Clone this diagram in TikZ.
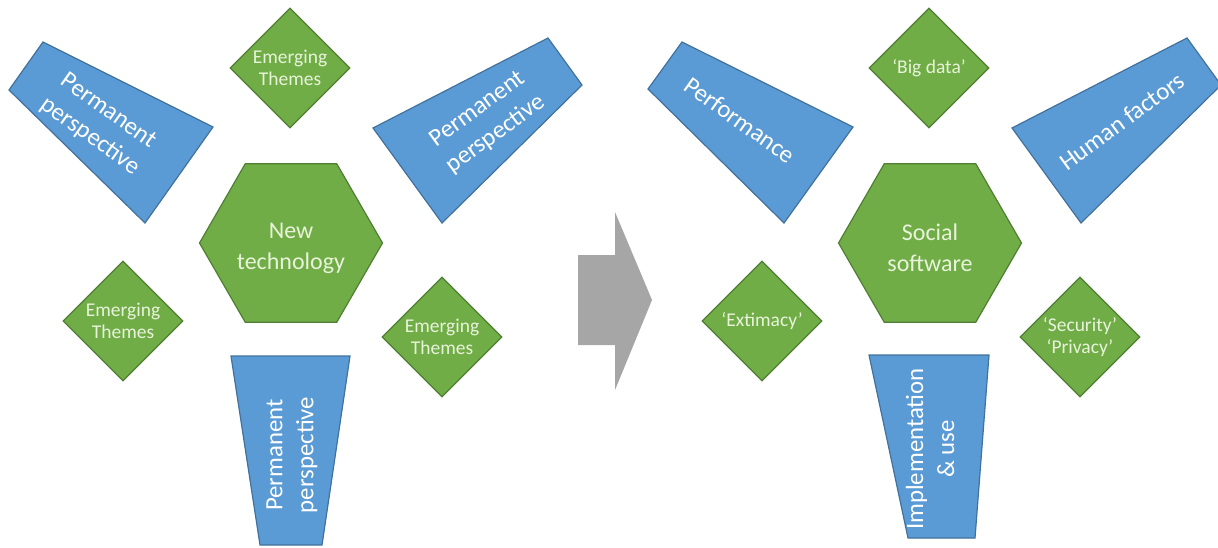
\documentclass[tikz,border=0pt]{standalone}
\usepackage{fontspec}
\setmainfont{Carlito}
\usetikzlibrary{shapes.geometric}
\definecolor{bfill}{HTML}{5B9BD5}
\definecolor{bline}{HTML}{41719C}
\definecolor{gfill}{HTML}{70AD47}
\definecolor{gline}{HTML}{507E32}
\definecolor{gtext}{HTML}{E8F3DA}
\definecolor{arrowgray}{HTML}{A6A6A6}
\begin{document}
\begin{tikzpicture}[x=0.5pt,y=-0.5pt,
  persp/.style={fill=bfill,draw=bline,line width=0.6pt,line join=miter},
  persptext/.style={text=white,font=\fontsize{12.4}{15.5}\selectfont,align=center,inner sep=0pt},
  hexnode/.style={regular polygon,regular polygon sides=6,minimum size=91.5pt,inner sep=0pt,
    fill=gfill,draw=gline,line width=0.6pt},
  hextext/.style={text=gtext,font=\fontsize{12}{15.5}\selectfont,align=center,inner sep=0pt},
  theme/.style={diamond,minimum width=60pt,minimum height=60pt,inner sep=0pt,
    fill=gfill,draw=gline,line width=0.6pt,text=gtext,font=\fontsize{9.75}{11.2}\selectfont,align=center},
  bigarrow/.style={fill=arrowgray}
]
\useasboundingbox (0,0) rectangle (1218,547);

% ---------- left group ----------
\path[persp] (43,42) -- (9,90) -- (145,223) -- (213,127) -- cycle;
\node[persptext,rotate=-35.5] (ltl) at (99,124) {Permanent\\perspective};

\path[persp] (373,128) -- (548,38) -- (582,85) -- (442,223) -- cycle;
\node[persptext,rotate=36] (ltr) at (487,122) {Permanent\\perspective};

\path[persp] (231,356) -- (350,356) -- (322,545) -- (260,545) -- cycle;
\node[persptext,rotate=90] (lbot) at (292,455) {Permanent\\perspective};

\node[hexnode] (lhex) at (291,243) {};
\node[hextext] (lhext) at (291,248) {New\\technology};

\node[theme] (ltop) at (290,68) {Emerging\\Themes};
\node[theme] (lll) at (123,321) {Emerging\\Themes};
\node[theme] (llr) at (442,337) {Emerging\\Themes};

% ---------- arrow ----------
\path[bigarrow] (578,255) -- (615,255) -- (615,212) -- (652,300) -- (615,390)
  -- (615,345) -- (578,345) -- cycle;

% ---------- right group ----------
\path[persp] (682,42) -- (648,89) -- (784,223) -- (853,127) -- cycle;
\node[persptext,rotate=-35.5] (rtl) at (740,120) {Performance};

\path[persp] (1012,128) -- (1187,38) -- (1221,85) -- (1081,223) -- cycle;
\node[persptext,rotate=36] (rtr) at (1122,121) {Human factors};

\path[persp] (869,355) -- (989,355) -- (975,538) -- (908,538) -- cycle;
\node[persptext,rotate=90] (rbot) at (930,449) {Implementation\\\&~use};

\node[hexnode] (rhex) at (930,243) {};
\node[hextext] (rhext) at (930,248) {Social\\software};

\node[theme] (rtop) at (929,68) {‘Big data’};
\node[theme] (rll) at (762,321) {‘Extimacy’};
\node[theme,font=\fontsize{9.75}{11}\selectfont] (rlr) at (1080,337) {‘Security’\\‘Privacy’};
\end{tikzpicture}
\end{document}
